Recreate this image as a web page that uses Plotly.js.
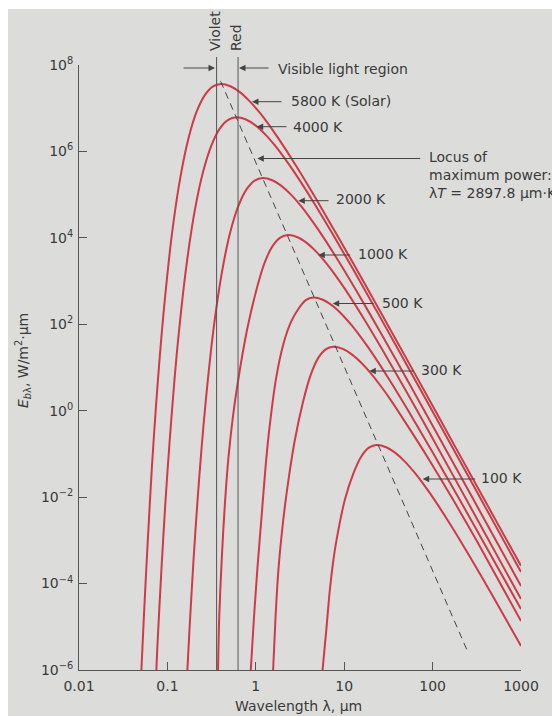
<!DOCTYPE html>
<html><head><meta charset="utf-8">
<script src="https://cdn.plot.ly/plotly-3.0.1.min.js"></script>
<style>html,body{margin:0;padding:0;background:#dcdddb;}#chart{width:552px;height:716px;}</style>
</head><body><div id="chart"></div>
<script>
// ---- data (wavelength in µm, emissive power in W/m²·µm) ----
const lam5800 = [0.0508, 0.0542, 0.0603, 0.0668, 0.0743, 0.0826, 0.0918, 0.1132, 0.140, 0.173, 0.213, 0.264, 0.325, 0.402, 0.515, 0.659, 0.845, 1.084, 1.39, 1.778, 2.924, 4.80, 8.91, 16.6, 57.3, 198, 1000];
const e5800   = [1e-6, 1.75e-5, 1.2e-3, 0.0501, 1.29, 21.7, 254, 1.35e4, 2.48e5, 1.99e6, 8.09e6, 1.98e7, 3.16e7, 3.63e7, 3.23e7, 2.36e7, 1.48e7, 8.30e6, 4.30e6, 2.08e6, 4.32e5, 8.04e4, 9.02e3, 962, 10.2, 0.103, 2.57e-4];

const lam4000 = [0.0750, 0.0767, 0.0855, 0.0953, 0.1064, 0.1186, 0.1321, 0.1641, 0.2037, 0.2535, 0.3148, 0.3908, 0.4864, 0.6039, 0.7735, 0.9908, 1.269, 1.626, 2.083, 2.667, 4.375, 7.178, 13.34, 24.75, 85.3, 294, 1000];
const e4000   = [1e-6, 2.97e-6, 2.04e-4, 8.53e-3, 0.219, 3.68, 43.1, 2291, 4.22e4, 3.37e5, 1.374e6, 3.36e6, 5.37e6, 6.17e6, 5.48e6, 4.0e6, 2.51e6, 1.41e6, 7.29e5, 3.54e5, 7.33e4, 1.365e4, 1531, 163, 1.73, 0.01754, 1.85e-4];

const lam2000 = [0.1683, 0.1774, 0.1972, 0.2193, 0.2441, 0.2716, 0.3357, 0.4150, 0.5129, 0.6339, 0.7852, 0.9705, 1.1995, 1.535, 1.963, 2.518, 3.221, 4.121, 5.272, 8.650, 14.16, 26.24, 48.64, 167.1, 574, 1000];
const e2000   = [1e-6, 8.04e-6, 3.36e-4, 8.61e-3, 0.1449, 1.694, 90.2, 1660, 1.327e4, 5.41e4, 1.321e5, 2.113e5, 2.427e5, 2.158e5, 1.574e5, 9.89e4, 5.55e4, 2.87e4, 1.393e4, 2884, 537, 60.3, 6.43, 0.0679, 6.90e-4, 8.77e-5];

const lam1000 = [0.3741, 0.3855, 0.413, 0.447, 0.490, 0.5495, 0.6237, 0.8017, 1.0186, 1.2531, 1.538, 1.892, 2.323, 2.972, 3.793, 4.853, 6.194, 7.925, 10.14, 16.56, 27.04, 49.94, 92.3, 314.8, 1000];
const e1000   = [1e-6, 1.61e-5, 4.13e-4, 6.95e-3, 0.0813, 0.695, 4.325, 79.6, 637, 2594, 6339, 1.014e4, 1.164e4, 1.035e4, 7551, 4742, 2661, 1377, 668, 138.4, 25.76, 2.89, 0.3083, 3.26e-3, 4.39e-5];

const lam500 = [0.877, 0.9506, 1.047, 1.153, 1.271, 1.400, 1.696, 2.056, 2.495, 3.027, 3.673, 4.457, 5.728, 7.345, 9.441, 12.11, 15.56, 20.0, 32.96, 54.33, 101.5, 189.7, 354.4, 1000];
const e500   = [1e-6, 1.476e-5, 2.48e-4, 2.9e-3, 0.0355, 0.282, 5.62, 35.5, 112, 226, 362, 416, 370, 270, 169, 95.1, 49.2, 23.9, 4.94, 0.920, 0.103, 0.0110, 1.14e-3, 2.57e-5];

const lam300 = [1.570, 1.675, 1.803, 1.991, 2.218, 2.761, 3.436, 4.178, 5.070, 6.166, 7.499, 9.638, 12.39, 15.92, 20.46, 26.30, 33.81, 55.85, 92.26, 172.8, 323.6, 1000];
const e300   = [1e-6, 1.807e-5, 2.11e-4, 1.807e-3, 0.01125, 0.207, 1.656, 6.745, 16.48, 26.36, 30.27, 26.92, 19.63, 12.33, 6.918, 3.581, 1.738, 0.3597, 0.0708, 8.32e-3, 8.91e-4, 1.358e-5];

const lam100 = [5.689, 6.310, 6.823, 7.447, 8.241, 10.19, 12.74, 15.60, 19.05, 23.28, 29.82, 38.19, 48.92, 62.66, 80.28, 102.8, 168.7, 276.7, 514, 1000];
const e100   = [1e-6, 9.59e-6, 5.97e-5, 2.87e-4, 1.099e-3, 8.79e-3, 0.0358, 0.0875, 0.140, 0.1607, 0.1429, 0.1042, 0.0655, 0.0367, 0.0190, 9.23e-3, 1.91e-3, 3.56e-4, 3.99e-5, 3.58e-6];

const locusLam = [0.40, 243];
const locusE   = [4.2e7, 3.0e-6];

const visibleLam   = [0.36, 0.63];
const visibleNames = ['Violet', 'Red'];

const curveLabels = ['5800 K (Solar)', '4000 K', '2000 K', '1000 K', '500 K', '300 K', '100 K'];

const xTickVals = [0.01, 0.1, 1, 10, 100, 1000];
const xTickText = ['0.01', '0.1', '1', '10', '100', '1000'];
const yTickVals = [1e-6, 1e-4, 1e-2, 1, 1e2, 1e4, 1e6, 1e8];
const yTickText = ['10<sup>−6</sup>', '10<sup>−4</sup>', '10<sup>−2</sup>', '10<sup>0</sup>', '10<sup>2</sup>', '10<sup>4</sup>', '10<sup>6</sup>', '10<sup>8</sup>'];

// ---- layout helpers (pixel -> paper) ----
const W = 552, H = 716, ML = 79, MR = 31, MT = 65, MB = 46;
const PW = W - ML - MR, PH = H - MT - MB;
const px = x => (x - ML) / PW;
const py = y => (H - MB - y) / PH;

const RED = 'rgb(206,58,70)';
const INK = '#3a3a3a';
const AX = '#555';
const BG = '#dcdddb';
const FONT = 'DejaVu Sans';

const curves = [
  [lam5800, e5800], [lam4000, e4000], [lam2000, e2000], [lam1000, e1000],
  [lam500, e500], [lam300, e300], [lam100, e100]
];

const traces = curves.map((c, i) => ({
  x: c[0], y: c[1], type: 'scatter', mode: 'lines', name: curveLabels[i],
  line: {color: RED, width: 2, shape: 'spline', smoothing: 0.8},
  hoverinfo: 'skip'
}));
traces.push({
  x: locusLam, y: locusE, type: 'scatter', mode: 'lines', name: 'locus',
  line: {color: '#444', width: 1, dash: '7px,5px'}, hoverinfo: 'skip'
});

const shapes = [
  // photo border (white paper edge)
  {type: 'rect', xref: 'paper', yref: 'paper', x0: -0.3, x1: 1.2, y0: py(9), y1: 1.3, fillcolor: '#ffffff', line: {width: 0}, layer: 'below'},
  {type: 'rect', xref: 'paper', yref: 'paper', x0: -0.3, x1: px(8), y0: -0.2, y1: 1.3, fillcolor: '#ffffff', line: {width: 0}, layer: 'below'}
];
visibleLam.forEach(v => shapes.push({
  type: 'line', xref: 'x', yref: 'paper', x0: v, x1: v, y0: 0, y1: py(57),
  line: {color: AX, width: 1}
}));

const annotations = [];
// Violet / Red rotated labels
annotations.push({xref: 'paper', yref: 'paper', x: px(215), y: py(53), text: visibleNames[0], textangle: -90,
  showarrow: false, xanchor: 'center', yanchor: 'bottom', font: {family: FONT, size: 14, color: INK}});
annotations.push({xref: 'paper', yref: 'paper', x: px(236.5), y: py(53), text: visibleNames[1], textangle: -90,
  showarrow: false, xanchor: 'center', yanchor: 'bottom', font: {family: FONT, size: 14, color: INK}});

// arrows: [headX, headY, tailX]
const arrows = [
  [215, 68, 182], [239, 68, 270],
  [252, 101.7, 283], [256.7, 126.7, 288], [257.3, 158.5, 421.7],
  [298.3, 200.7, 330], [318.3, 255, 351.7], [332.7, 303.5, 375],
  [369.3, 371, 415], [422.7, 479, 476.7]
];
arrows.forEach(a => annotations.push({
  xref: 'paper', yref: 'paper', x: px(a[0]), y: py(a[1]), ax: a[2] - a[0], ay: 0,
  text: '', showarrow: true, arrowhead: 2, arrowsize: 1.3, arrowwidth: 1, arrowcolor: '#444', standoff: 0
}));

// texts: [x, y, text]
const texts = [
  [276, 69, 'Visible light region'],
  [289, 101.5, curveLabels[0]],
  [291, 127, curveLabels[1]],
  [334, 199.5, curveLabels[2]],
  [355.5, 254, curveLabels[3]],
  [380, 303, curveLabels[4]],
  [419, 369.5, curveLabels[5]],
  [479, 477.5, curveLabels[6]]
];
texts.forEach(t => annotations.push({
  xref: 'paper', yref: 'paper', x: px(t[0]), y: py(t[1]), text: t[2], showarrow: false,
  xanchor: 'left', yanchor: 'middle', font: {family: FONT, size: 14, color: INK}
}));
annotations.push({
  xref: 'paper', yref: 'paper', x: px(427), y: py(175),
  text: 'Locus of<br>maximum power:<br>λ<i>T</i> = 2897.8 μm·K', align: 'left',
  showarrow: false, xanchor: 'left', yanchor: 'middle', font: {family: FONT, size: 14, color: INK}
});
// axis titles
annotations.push({
  xref: 'paper', yref: 'paper', x: px(298.5), y: py(706), text: 'Wavelength λ, μm', showarrow: false,
  xanchor: 'center', yanchor: 'middle', font: {family: FONT, size: 14, color: INK}
});
annotations.push({
  xref: 'paper', yref: 'paper', x: px(23), y: py(361), textangle: -90,
  text: '<i>E</i><sub><i>b</i>λ</sub>, W/m<sup>2</sup>·μm', showarrow: false,
  xanchor: 'center', yanchor: 'middle', font: {family: FONT, size: 14, color: INK}
});

const axisCommon = {
  type: 'log', showgrid: false, zeroline: false, showline: true, linecolor: AX, linewidth: 1,
  ticks: 'inside', ticklen: 8, tickwidth: 1, tickcolor: AX,
  tickfont: {family: FONT, size: 14, color: INK}, tickmode: 'array'
};

const layout = {
  width: W, height: H,
  margin: {l: ML, r: MR, t: MT, b: MB, pad: 0},
  paper_bgcolor: BG, plot_bgcolor: BG,
  showlegend: false,
  font: {family: FONT, size: 14, color: INK},
  xaxis: Object.assign({}, axisCommon, {range: [-2, 3], tickvals: xTickVals, ticktext: xTickText, ticklabelstandoff: 3}),
  yaxis: Object.assign({}, axisCommon, {range: [-6, 8], tickvals: yTickVals, ticktext: yTickText, ticklabelstandoff: 2}),
  shapes: shapes,
  annotations: annotations
};

Plotly.newPlot('chart', traces, layout, {staticPlot: true, displayModeBar: false});
</script>
</body></html>
